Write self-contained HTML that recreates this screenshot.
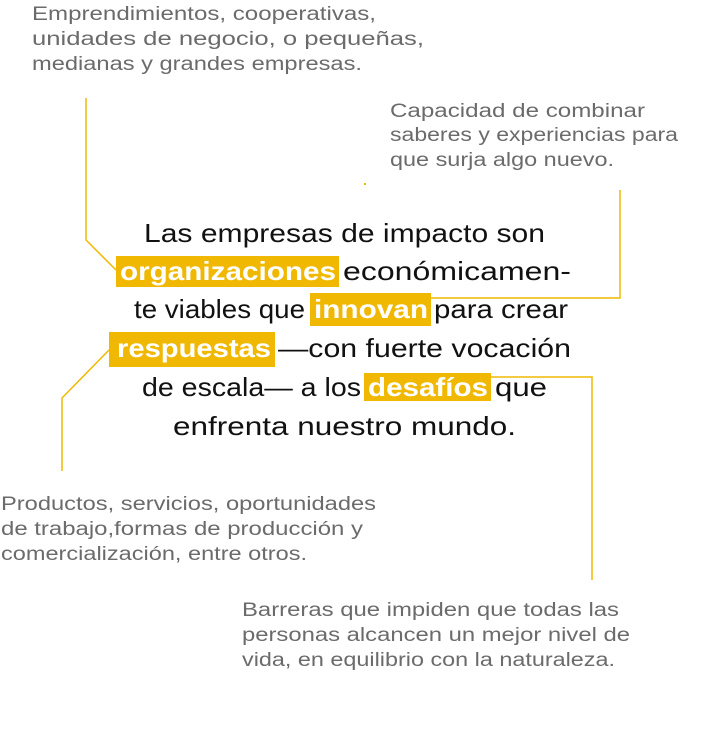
<!DOCTYPE html>
<html><head><meta charset="utf-8"><style>html,body{margin:0;padding:0;background:#fff;width:713px;height:730px;overflow:hidden}</style></head>
<body>
<svg width="713" height="730" viewBox="0 0 713 730" xmlns="http://www.w3.org/2000/svg">
<g fill="none" stroke="#f0b800" stroke-width="1.5">
<polyline points="86,98 86,240 116,270"/>
<polyline points="620,190 620,298 431,298"/>
<polyline points="109,350 62,398 62,471"/>
<polyline points="491,377 592,377 592,580"/>
</g>
<rect x="364" y="183" width="2" height="2" fill="#f0b800"/>
<g fill="#f0b800">
<rect x="116" y="256" width="223" height="31"/>
<rect x="310" y="293" width="121" height="33"/>
<rect x="109" y="332" width="166" height="35"/>
<rect x="364" y="373" width="127" height="28"/>
</g>
<g font-family="Liberation Sans, sans-serif" font-size="19" fill="#6b6b6b">
<text x="32" y="20" textLength="344" lengthAdjust="spacingAndGlyphs">Emprendimientos, cooperativas,</text>
<text x="32" y="45" textLength="392" lengthAdjust="spacingAndGlyphs">unidades  de  negocio,  o  pequeñas,</text>
<text x="32" y="70" textLength="330" lengthAdjust="spacingAndGlyphs">medianas y grandes empresas.</text>
<text x="390" y="117" textLength="255" lengthAdjust="spacingAndGlyphs">Capacidad de combinar</text>
<text x="390" y="141" textLength="288" lengthAdjust="spacingAndGlyphs">saberes y experiencias para</text>
<text x="390" y="166" textLength="224" lengthAdjust="spacingAndGlyphs">que surja algo nuevo.</text>
<text x="1" y="510" textLength="375" lengthAdjust="spacingAndGlyphs">Productos, servicios, oportunidades</text>
<text x="1" y="535" textLength="362" lengthAdjust="spacingAndGlyphs">de trabajo,formas de producción y</text>
<text x="1" y="560" textLength="306" lengthAdjust="spacingAndGlyphs">comercialización, entre otros.</text>
<text x="242" y="616" textLength="377" lengthAdjust="spacingAndGlyphs">Barreras que impiden que todas las</text>
<text x="242" y="641" textLength="388" lengthAdjust="spacingAndGlyphs">personas alcancen un mejor nivel de</text>
<text x="242" y="666" textLength="373" lengthAdjust="spacingAndGlyphs">vida, en equilibrio con la naturaleza.</text>
</g>
<g font-family="Liberation Sans, sans-serif" font-size="26" fill="#111">
<text x="144" y="242" textLength="401" lengthAdjust="spacingAndGlyphs">Las empresas de impacto son</text>
<text x="120" y="280" textLength="216" lengthAdjust="spacingAndGlyphs" fill="#fff" font-weight="bold">organizaciones</text>
<text x="343" y="280" textLength="228" lengthAdjust="spacingAndGlyphs">económicamen-</text>
<text x="134" y="318" textLength="171" lengthAdjust="spacingAndGlyphs">te viables que</text>
<text x="314" y="318" textLength="114" lengthAdjust="spacingAndGlyphs" fill="#fff" font-weight="bold">innovan</text>
<text x="434" y="318" textLength="134" lengthAdjust="spacingAndGlyphs">para crear</text>
<text x="117" y="357" textLength="154" lengthAdjust="spacingAndGlyphs" fill="#fff" font-weight="bold">respuestas</text>
<text x="278" y="357" textLength="293" lengthAdjust="spacingAndGlyphs">—con fuerte vocación</text>
<text x="142" y="396" textLength="219" lengthAdjust="spacingAndGlyphs">de escala— a los</text>
<text x="368" y="396" textLength="120" lengthAdjust="spacingAndGlyphs" fill="#fff" font-weight="bold">desafíos</text>
<text x="495" y="396" textLength="52" lengthAdjust="spacingAndGlyphs">que</text>
<text x="173" y="435" textLength="343" lengthAdjust="spacingAndGlyphs">enfrenta nuestro mundo.</text>
</g>
</svg>
</body></html>
